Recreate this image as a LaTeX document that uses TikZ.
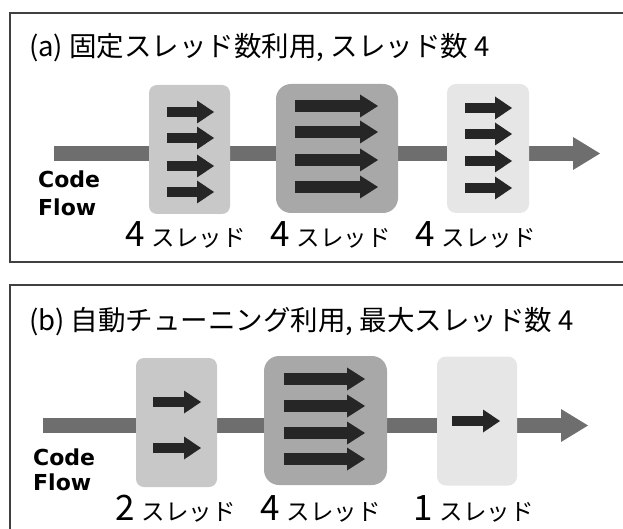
\documentclass[tikz,border=0pt]{standalone}
\usepackage{fontspec}
\setmainfont{Noto Sans CJK JP}
\newfontfamily\cffont{DejaVu Sans}
\usetikzlibrary{arrows.meta}
\definecolor{framec}{HTML}{404040}
\definecolor{flowc}{HTML}{6E6E6E}
\definecolor{boxA}{HTML}{C8C8C8}
\definecolor{boxB}{HTML}{A8A8A8}
\definecolor{boxC}{HTML}{E6E6E6}
\definecolor{thrc}{HTML}{262626}
\newcommand{\numf}{\fontsize{35}{35}\selectfont}
\newcommand{\sref}{\fontsize{23.5}{23.5}\selectfont}
\tikzset{
  panel/.style={draw=framec,line width=2.5pt},
  flowbar/.style={draw=flowc,line width=15pt,-{Triangle[length=27pt,width=33pt,line width=0pt]}},
  thread/.style={draw=thrc,line width=10pt,-{Triangle[length=17pt,width=23pt,line width=0pt]}},
  threadw/.style={draw=thrc,line width=12pt,-{Triangle[length=18pt,width=23pt,line width=0pt]}},
  tbox/.style={draw=none,inner sep=0pt,minimum height=129pt},
  title/.style={anchor=base west,inner sep=0pt,font=\fontsize{27.5}{30}\selectfont},
  lbl/.style={anchor=base west,inner sep=0pt},
  cf/.style={anchor=base west,inner sep=0pt,font=\cffont\bfseries\fontsize{22}{26}\selectfont},
}
\begin{document}
\begin{tikzpicture}[x=1pt,y=-1pt]
\useasboundingbox (0,0) rectangle (623,529);
\clip (0,0) rectangle (623,529);
\fill[white] (0,0) rectangle (623,529);
% panels
\draw[panel] (10,13) rectangle (650,262);
\draw[panel] (10,285) rectangle (650,560);
% ---------------- panel (a)
\node[title] (ta) at (29,57) {(a) 固定スレッド数利用, スレッド数 4};
\coordinate (as) at (54,153.5);
\coordinate (ae) at (600,153.5);
\draw[flowbar] (as) -- (ae);
\node[tbox,fill=boxA,rounded corners=8pt,minimum width=81pt] (a1) at (189.5,149.5) {};
\node[tbox,fill=boxB,rounded corners=15pt,minimum width=122pt] (a2) at (337,148.5) {};
\node[tbox,fill=boxC,rounded corners=9pt,minimum width=82pt] (a3) at (488,148.5) {};
\foreach \y in {112,138,166,192} \draw[thread] (167,\y) -- (214,\y);
\foreach \y in {106,132,160,187} \draw[threadw] (295,\y) -- (378,\y);
\foreach \y in {108,134,161,188} \draw[thread] (465,\y) -- (512,\y);
\node[cf] (ca1) at (38,188) {Code};
\node[cf] (ca2) at (38,216) {Flow};
\node[lbl] (la1) at (125,247) {\numf 4\hspace{7pt}\sref スレッド};
\node[lbl] (la2) at (270,247) {\numf 4\hspace{7pt}\sref スレッド};
\node[lbl] (la3) at (415,247) {\numf 4\hspace{7pt}\sref スレッド};
% ---------------- panel (b)
\node[title] (tb) at (29,330) {(b) 自動チューニング利用, 最大スレッド数 4};
\coordinate (bs) at (43,425.5);
\coordinate (be) at (588,425.5);
\draw[flowbar] (bs) -- (be);
\node[tbox,fill=boxA,rounded corners=8pt,minimum width=81pt] (b1) at (176.5,422.5) {};
\node[tbox,fill=boxB,rounded corners=15pt,minimum width=123pt] (b2) at (325.5,420.5) {};
\node[tbox,fill=boxC,rounded corners=9pt,minimum width=80pt] (b3) at (477,421) {};
\foreach \y in {402,448} \draw[thread] (153,\y) -- (201,\y);
\foreach \y in {379,406,433,459} \draw[threadw] (284,\y) -- (365,\y);
\draw[thread] (452,421) -- (500,421);
\node[cf] (cb1) at (33,465) {Code};
\node[cf] (cb2) at (33,490) {Flow};
\node[lbl] (lb1) at (115,520) {\numf 2\hspace{7pt}\sref スレッド};
\node[lbl] (lb2) at (260,520) {\numf 4\hspace{7pt}\sref スレッド};
\node[lbl] (lb3) at (413,520) {\numf 1\hspace{7pt}\sref スレッド};
\end{tikzpicture}
\end{document}
